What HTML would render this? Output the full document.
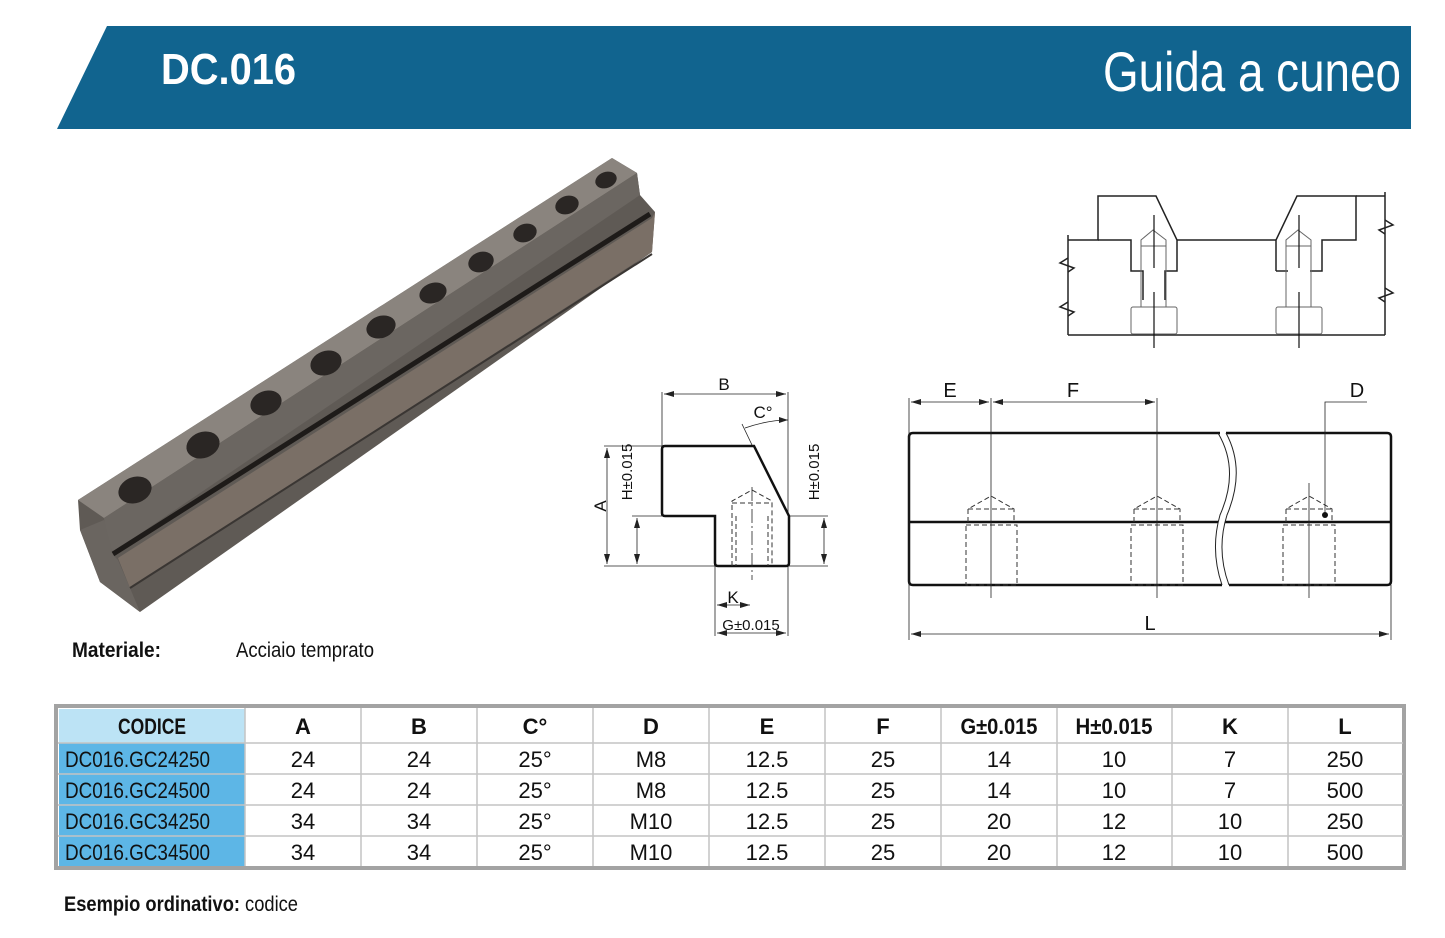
<!DOCTYPE html>
<html><head><meta charset="utf-8"><style>
html,body{margin:0;padding:0;background:#fff;width:1445px;height:938px;overflow:hidden}
svg{display:block}
.n{font-family:"Liberation Sans Narrow","Liberation Sans",sans-serif}
.d{font-family:"Liberation Sans",sans-serif;font-size:17px;fill:#111}
</style></head><body>
<svg width="1445" height="938" viewBox="0 0 1445 938" xmlns="http://www.w3.org/2000/svg">
<polygon points="107,26 1411,26 1411,129 57,129" fill="#11648f"/>
<text x="161" y="84" class="n" font-size="44" font-weight="bold" fill="#fff" textLength="135" lengthAdjust="spacingAndGlyphs">DC.016</text>
<text x="1401" y="91" class="n" font-size="56" fill="#fff" text-anchor="end" textLength="298" lengthAdjust="spacingAndGlyphs">Guida a cuneo</text>

<polygon points="78,500 612,158 637,173 640,195 655,212 652,252 140,612 100,582 80,530" fill="#5f5a55"/>
<polygon points="78,500 612,158 637,173 104,518" fill="#8a847e"/>
<polygon points="104,518 637,173 640,195 113,552 106,540" fill="#6b6661"/>
<polygon points="118,558 652,218 655,212 652,252 130,588" fill="#7a6f66"/>
<polygon points="80,530 104,520 113,555 118,560 130,588 140,612 100,582" fill="#6a6560"/>
<line x1="113" y1="554" x2="650" y2="214" stroke="#1e1b19" stroke-width="5"/>
<line x1="130" y1="588" x2="652" y2="254" stroke="#3a3633" stroke-width="2"/>
<g fill="#2a2624">
<ellipse cx="135" cy="490" rx="17" ry="13" transform="rotate(-20 135 490)"/>
<ellipse cx="203" cy="445" rx="17" ry="13" transform="rotate(-20 203 445)"/>
<ellipse cx="266" cy="403" rx="16" ry="12" transform="rotate(-20 266 403)"/>
<ellipse cx="326" cy="363" rx="16" ry="12" transform="rotate(-20 326 363)"/>
<ellipse cx="381" cy="327" rx="15" ry="11" transform="rotate(-20 381 327)"/>
<ellipse cx="433" cy="293" rx="14" ry="10" transform="rotate(-20 433 293)"/>
<ellipse cx="481" cy="262" rx="13" ry="10" transform="rotate(-20 481 262)"/>
<ellipse cx="525" cy="233" rx="12" ry="9" transform="rotate(-20 525 233)"/>
<ellipse cx="567" cy="205" rx="12" ry="9" transform="rotate(-20 567 205)"/>
<ellipse cx="606" cy="180" rx="11" ry="8" transform="rotate(-20 606 180)"/>
</g>

<text x="72" y="657" class="n" font-size="21" font-weight="bold" fill="#111" textLength="89" lengthAdjust="spacingAndGlyphs">Materiale:</text>
<text x="236" y="657" class="n" font-size="21" fill="#111" textLength="138" lengthAdjust="spacingAndGlyphs">Acciaio temprato</text>

<g fill="none" stroke="#222" stroke-width="1.5">
<polyline points="1068,240 1098,240 1098,196 1156,196 1177,240 1177,271 1165,271 1165,300"/>
<polyline points="1177,240 1276,240"/>
<polyline points="1143,300 1143,271 1131,271 1131,240 1098,240"/>
<polyline points="1276,271 1276,240 1297,196 1356,196 1356,240 1322,240 1322,271 1310,271"/>
<polyline points="1288,271 1276,271"/>
<line x1="1068" y1="235" x2="1068" y2="335"/>
<line x1="1385" y1="192" x2="1385" y2="335"/>
<line x1="1356" y1="196" x2="1385" y2="196"/>
<line x1="1068" y1="335" x2="1385" y2="335"/>
<polyline points="1068,258 1060,263 1074,268 1068,272"/>
<polyline points="1068,302 1060,307 1074,312 1068,316"/>
<polyline points="1385,220 1393,225 1379,230 1385,234"/>
<polyline points="1385,288 1393,293 1379,298 1385,302"/>
</g>
<g fill="none" stroke="#666" stroke-width="1">
<rect x="1131" y="307" width="46" height="27" rx="2"/>
<rect x="1276" y="307" width="46" height="27" rx="2"/>
<polyline points="1141,307 1141,240 1153,230 1166,240 1166,307"/>
<polyline points="1286,307 1286,240 1298,230 1311,240 1311,307"/>
<line x1="1141" y1="246" x2="1166" y2="246"/><line x1="1286" y1="246" x2="1311" y2="246"/>
</g>
<g stroke="#111" stroke-width="1.2">
<line x1="1154" y1="215" x2="1154" y2="268"/><line x1="1154" y1="292" x2="1154" y2="348"/>
<line x1="1299" y1="215" x2="1299" y2="268"/><line x1="1299" y1="292" x2="1299" y2="348"/>
</g>

<g fill="none" stroke="#222" stroke-width="0.8">
<line x1="662" y1="392" x2="662" y2="446"/><line x1="788" y1="392" x2="788" y2="516"/>
<line x1="664" y1="394" x2="786" y2="394"/>
<path d="M745,428 Q768,420 788,420"/>
<line x1="742" y1="424" x2="752" y2="445"/>
<line x1="604" y1="446" x2="662" y2="446"/>
<line x1="604" y1="566" x2="715" y2="566"/>
<line x1="632" y1="516" x2="662" y2="516"/>
<line x1="607" y1="448" x2="607" y2="564"/>
<line x1="637" y1="518" x2="637" y2="564"/>
<line x1="789" y1="516" x2="828" y2="516"/><line x1="789" y1="566" x2="828" y2="566"/>
<line x1="824" y1="518" x2="824" y2="564"/>
<line x1="715" y1="566" x2="715" y2="636"/><line x1="788" y1="566" x2="788" y2="636"/>
<line x1="717" y1="605" x2="750" y2="605"/>
<line x1="717" y1="633" x2="786" y2="633"/>
</g>
<g fill="#222">
<polygon points="664,394 674,391 674,397"/><polygon points="786,394 776,391 776,397"/>
<polygon points="607,448 604,458 610,458"/><polygon points="607,564 604,554 610,554"/>
<polygon points="637,518 634,528 640,528"/><polygon points="637,564 634,554 640,554"/>
<polygon points="824,518 821,528 827,528"/><polygon points="824,564 821,554 827,554"/>
<polygon points="717,605 727,602 727,608"/><polygon points="750,605 740,602 740,608"/>
<polygon points="717,633 727,630 727,636"/><polygon points="786,633 776,630 776,636"/>
<polygon points="788,420 779,417 779,423"/>
</g>
<path d="M665,446 L754,446 L789,516 L789,563 Q789,566 786,566 L718,566 Q715,566 715,563 L715,516 L665,516 Q662,516 662,513 L662,449 Q662,446 665,446Z" fill="none" stroke="#111" stroke-width="2.5"/>
<g fill="none" stroke="#333" stroke-width="1" stroke-dasharray="5,3">
<polyline points="732,566 732,501 752,490 772,501 772,566"/>
<line x1="732" y1="503" x2="772" y2="503"/>
<line x1="736" y1="516" x2="736" y2="566"/><line x1="768" y1="516" x2="768" y2="566"/>
</g>
<line x1="752" y1="487" x2="752" y2="580" stroke="#222" stroke-width="0.8" stroke-dasharray="14,3,2,3"/>
<text x="724" y="390" class="d" text-anchor="middle">B</text>
<text x="763" y="418" class="d" text-anchor="middle">C°</text>
<text x="733" y="603" class="d" text-anchor="middle">K</text>
<text x="751" y="630" class="d" text-anchor="middle" style="font-size:15px">G±0.015</text>
<text class="d" transform="translate(606,506) rotate(-90)" text-anchor="middle">A</text>
<text class="d" style="font-size:15px" transform="translate(632,472) rotate(-90)" text-anchor="middle">H±0.015</text>
<text class="d" style="font-size:15px" transform="translate(819,472) rotate(-90)" text-anchor="middle">H±0.015</text>

<path d="M1220,433 L913,433 Q909,433 909,437 L909,581 Q909,585 913,585 L1222,585" fill="none" stroke="#111" stroke-width="2.5"/>
<path d="M1226,433 L1387,433 Q1391,433 1391,437 L1391,581 Q1391,585 1387,585 L1229,585" fill="none" stroke="#111" stroke-width="2.5"/>
<line x1="909" y1="522" x2="1218" y2="522" stroke="#111" stroke-width="2.5"/>
<line x1="1225" y1="522" x2="1391" y2="522" stroke="#111" stroke-width="2.5"/>
<path d="M1218,433 Q1240,470 1220,515 Q1210,550 1222,585" fill="none" stroke="#222" stroke-width="1"/>
<path d="M1226,433 Q1246,470 1227,515 Q1216,550 1229,585" fill="none" stroke="#222" stroke-width="1"/>
<g fill="none" stroke="#333" stroke-width="1" stroke-dasharray="5,3">
<polyline points="968,522 968,509 991,496 1014,509 1014,522"/><line x1="968" y1="509" x2="1014" y2="509"/>
<rect x="966" y="525" width="51" height="60"/>
<polyline points="1134,522 1134,509 1157,496 1180,509 1180,522"/><line x1="1134" y1="509" x2="1180" y2="509"/>
<rect x="1131" y="525" width="52" height="60"/>
<polyline points="1286,522 1286,509 1309,496 1332,509 1332,522"/><line x1="1286" y1="509" x2="1332" y2="509"/>
<rect x="1283" y="525" width="52" height="60"/>
</g>
<g stroke="#222" stroke-width="0.8">
<line x1="991" y1="398" x2="991" y2="598"/>
<line x1="1157" y1="398" x2="1157" y2="598"/>
<line x1="1309" y1="483" x2="1309" y2="598"/>
<line x1="909" y1="398" x2="909" y2="640"/>
<line x1="1391" y1="585" x2="1391" y2="640"/>
<line x1="911" y1="402" x2="989" y2="402"/>
<line x1="993" y1="402" x2="1155" y2="402"/>
<line x1="911" y1="634" x2="1389" y2="634"/>
<polyline points="1325,515 1325,402 1367,402" fill="none"/>
</g>
<circle cx="1325" cy="515" r="3" fill="#111"/>
<g fill="#222">
<polygon points="911,402 921,399 921,405"/><polygon points="989,402 979,399 979,405"/>
<polygon points="993,402 1003,399 1003,405"/><polygon points="1155,402 1145,399 1145,405"/>
<polygon points="911,634 921,631 921,637"/><polygon points="1389,634 1379,631 1379,637"/>
</g>
<text x="950" y="397" class="d" style="font-size:20px" text-anchor="middle">E</text>
<text x="1073" y="397" class="d" style="font-size:20px" text-anchor="middle">F</text>
<text x="1357" y="397" class="d" style="font-size:20px" text-anchor="middle">D</text>
<text x="1150" y="630" class="d" style="font-size:20px" text-anchor="middle">L</text>

<rect x="56" y="706" width="1348" height="162" fill="#fff" stroke="#a3a3a3" stroke-width="4"/>
<rect x="59" y="709" width="186" height="34" fill="#bce3f5"/>
<rect x="59" y="743" width="186" height="123" fill="#5db6e6"/>
<g stroke="#c4c4c4" stroke-width="1.5">
<line x1="58" y1="743" x2="1403" y2="743"/><line x1="58" y1="774" x2="1403" y2="774"/>
<line x1="58" y1="805" x2="1403" y2="805"/><line x1="58" y1="836" x2="1403" y2="836"/>
<line x1="245" y1="708" x2="245" y2="866"/><line x1="361" y1="708" x2="361" y2="866"/>
<line x1="477" y1="708" x2="477" y2="866"/><line x1="593" y1="708" x2="593" y2="866"/>
<line x1="709" y1="708" x2="709" y2="866"/><line x1="825" y1="708" x2="825" y2="866"/>
<line x1="941" y1="708" x2="941" y2="866"/><line x1="1057" y1="708" x2="1057" y2="866"/>
<line x1="1172" y1="708" x2="1172" y2="866"/><line x1="1288" y1="708" x2="1288" y2="866"/>
</g>
<g class="n" font-size="22" fill="#111" text-anchor="middle" font-weight="bold">
<text x="152" y="734" textLength="68" lengthAdjust="spacingAndGlyphs">CODICE</text><text x="303" y="734">A</text><text x="419" y="734">B</text><text x="535" y="734">C°</text><text x="651" y="734">D</text><text x="767" y="734">E</text><text x="883" y="734">F</text><text x="999" y="734" textLength="77" lengthAdjust="spacingAndGlyphs">G±0.015</text><text x="1114" y="734" textLength="77" lengthAdjust="spacingAndGlyphs">H±0.015</text><text x="1230" y="734">K</text><text x="1345" y="734">L</text>
</g>
<g class="n" font-size="22" fill="#111">
<text x="65" y="767" textLength="145" lengthAdjust="spacingAndGlyphs">DC016.GC24250</text><text x="65" y="798" textLength="145" lengthAdjust="spacingAndGlyphs">DC016.GC24500</text><text x="65" y="829" textLength="145" lengthAdjust="spacingAndGlyphs">DC016.GC34250</text><text x="65" y="860" textLength="145" lengthAdjust="spacingAndGlyphs">DC016.GC34500</text>
</g>
<g class="n" font-size="22" fill="#111" text-anchor="middle">
<text x="303" y="767">24</text><text x="419" y="767">24</text><text x="535" y="767">25°</text><text x="651" y="767">M8</text><text x="767" y="767">12.5</text><text x="883" y="767">25</text><text x="999" y="767">14</text><text x="1114" y="767">10</text><text x="1230" y="767">7</text><text x="1345" y="767">250</text>
<text x="303" y="798">24</text><text x="419" y="798">24</text><text x="535" y="798">25°</text><text x="651" y="798">M8</text><text x="767" y="798">12.5</text><text x="883" y="798">25</text><text x="999" y="798">14</text><text x="1114" y="798">10</text><text x="1230" y="798">7</text><text x="1345" y="798">500</text>
<text x="303" y="829">34</text><text x="419" y="829">34</text><text x="535" y="829">25°</text><text x="651" y="829">M10</text><text x="767" y="829">12.5</text><text x="883" y="829">25</text><text x="999" y="829">20</text><text x="1114" y="829">12</text><text x="1230" y="829">10</text><text x="1345" y="829">250</text>
<text x="303" y="860">34</text><text x="419" y="860">34</text><text x="535" y="860">25°</text><text x="651" y="860">M10</text><text x="767" y="860">12.5</text><text x="883" y="860">25</text><text x="999" y="860">20</text><text x="1114" y="860">12</text><text x="1230" y="860">10</text><text x="1345" y="860">500</text>
</g>
<text x="64" y="911" class="n" font-size="21" fill="#111" textLength="234" lengthAdjust="spacingAndGlyphs"><tspan font-weight="bold">Esempio ordinativo:</tspan> codice</text>
</svg>
</body></html>
